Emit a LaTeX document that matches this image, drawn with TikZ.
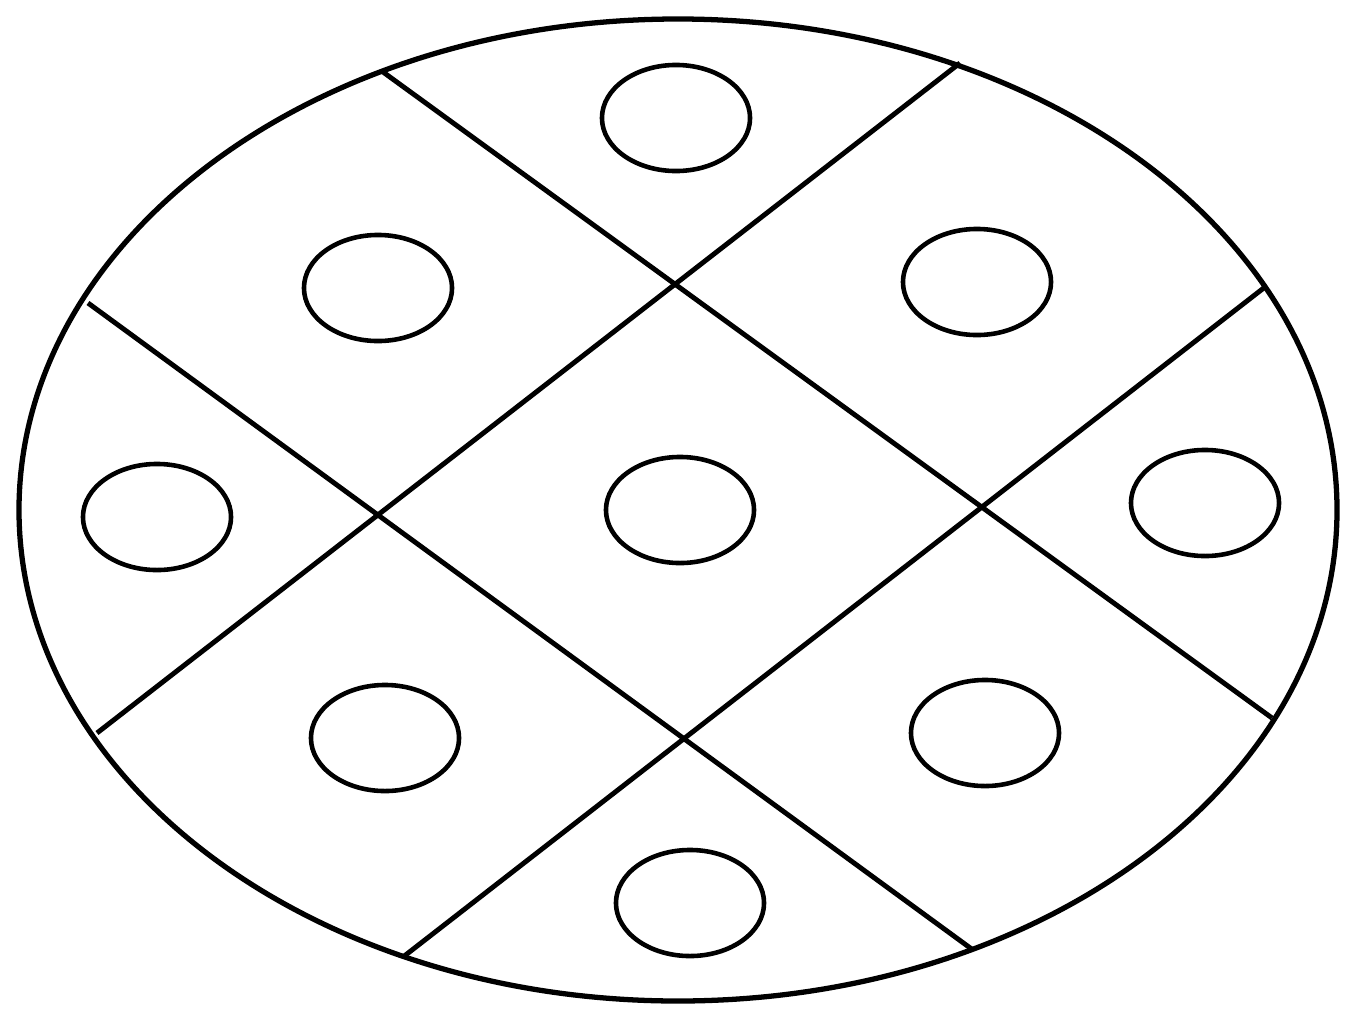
\documentclass[tikz,border=0pt]{standalone}
\usepackage{tikz}
\usetikzlibrary{shapes.geometric}

\begin{document}
\begin{tikzpicture}[x=0.01cm, y=-0.01cm,
 rim/.style={draw=black, line width=1.5pt},
 cut/.style={draw=black, line width=1.4pt},
 cell/.style={draw=black, ellipse, line width=1.3pt, minimum width=1.48cm, minimum height=1.06cm, inner sep=0pt}]
\useasboundingbox (0,0) rectangle (1349,1009);

% outer outline
\draw[rim] (678,510) ellipse [x radius=659, y radius=-491];

% end points of the cuts on the rim
\coordinate (ta) at (383,72);
\coordinate (tb) at (1272,718);
\coordinate (ua) at (88,303);
\coordinate (ub) at (973,950);
\coordinate (va) at (97,733);
\coordinate (vb) at (960,63);
\coordinate (wa) at (403,957);
\coordinate (wb) at (1265,287);

\draw[cut] (ta) -- (tb);
\draw[cut] (ua) -- (ub);
\draw[cut] (va) -- (vb);
\draw[cut] (wa) -- (wb);

% small rings, one per cell
\foreach \name/\px/\py in {top/676/118, nw/378/288, ne/977/282, west/157/517, mid/680/510,
  east/1205/503, sw/385/738, se/985/733, bot/690/903}
  \node[cell] (\name) at (\px,\py) {};

\end{tikzpicture}
\end{document}
